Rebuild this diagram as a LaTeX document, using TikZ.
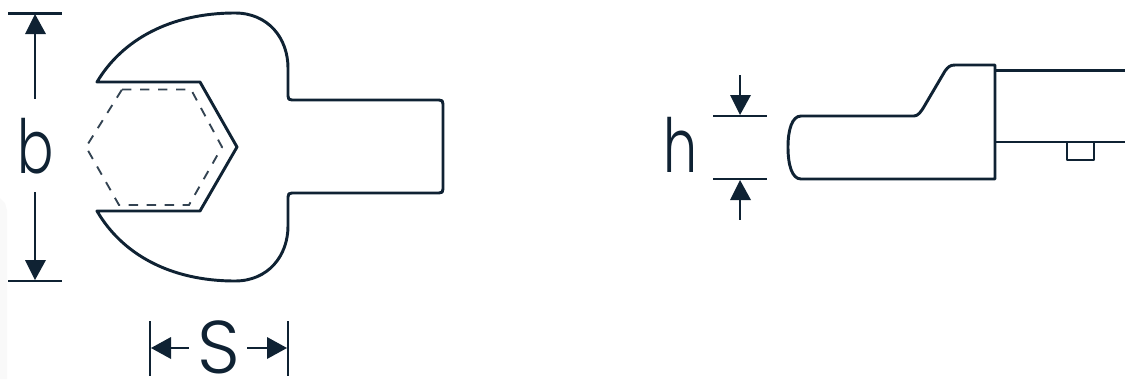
\documentclass[tikz,border=0pt]{standalone}
\usepackage{fontspec}
\setmainfont{Poppins Light}
\definecolor{ink}{HTML}{0F2233}
\begin{document}
\begin{tikzpicture}[x=0.75pt,y=-0.75pt,
  outline/.style={draw=ink,line width=2.2pt,line join=round},
  thinline/.style={draw=ink,line width=2.1pt},
  hexdash/.style={draw=ink!85,line width=1.4pt,dash pattern=on 7pt off 6.5pt},
  tip/.style={fill=ink,draw=none},
  lbl/.style={text=ink,inner sep=0pt,font=\fontsize{56pt}{56pt}\selectfont}]
\useasboundingbox (0,0) rectangle (1125,379);
\fill[gray!5] (0,198) -- (5,203) -- (7,210) -- (7,379) -- (0,379) -- cycle;
% open-end head
\draw[outline] (97,82) .. controls (122,40) and (170,13) .. (235,13)
  .. controls (268,13) and (288,38) .. (288,68)
  -- (288,96) .. controls (288,99) and (289,100) .. (292,100)
  -- (439,100) .. controls (442,100) and (443,101) .. (443,104)
  -- (443,189) .. controls (443,192) and (442,193) .. (439,193)
  -- (292,193) .. controls (289,193) and (288,194) .. (288,197)
  -- (288,226) .. controls (288,256) and (268,281) .. (235,281)
  .. controls (170,281) and (122,254) .. (97,211)
  -- (200,211) -- (237,147) -- (200,82) -- cycle;
\draw[hexdash] (122,89.5) -- (191,89.5) -- (222,147) -- (189,205) -- (119,205) -- (86,147) -- cycle;
% b dimension
\draw[thinline] (8,13.5) -- (62,13.5);
\draw[thinline] (8,281) -- (62,281);
\draw[thinline] (35,20) -- (35,99);
\draw[thinline] (35,192) -- (35,275);
\fill[tip] (35,14) -- (46,34) -- (25,34) -- cycle;
\fill[tip] (35,280) -- (46,260) -- (25,260) -- cycle;
\node[lbl,xscale=0.72] (b) at (36,146) {b};
% S dimension
\draw[thinline] (150,321) -- (150,376);
\draw[thinline] (288,321) -- (288,376);
\draw[thinline] (155,348) -- (189,348);
\draw[thinline] (247,348) -- (283,348);
\fill[tip] (151,348) -- (171,337) -- (171,359) -- cycle;
\fill[tip] (287,348) -- (267,337) -- (267,359) -- cycle;
\node[lbl] (S) at (219,347) {S};
% side view
\draw[outline] (995,65) -- (955,65) .. controls (950,65) and (948,67) .. (945,71)
  -- (925,105) .. controls (921,112) and (918,116) .. (914,116)
  -- (801,116) .. controls (792,116) and (788,130) .. (788,147)
  .. controls (788,165) and (792,179) .. (801,179)
  -- (995,179) -- cycle;
\draw[outline] (995,70.5) -- (1125,70.5);
\draw[outline] (995,142) -- (1125,142);
\draw[outline,line width=1.7pt] (1067,143) -- (1067,160) -- (1094,160) -- (1094,143);
% h dimension
\draw[thinline] (713,116) -- (767,116);
\draw[thinline] (713,179) -- (767,179);
\draw[thinline] (740,75) -- (740,110);
\draw[thinline] (740,185) -- (740,220);
\fill[tip] (740,115) -- (730,95) -- (751,95) -- cycle;
\fill[tip] (740,180) -- (730,200) -- (751,200) -- cycle;
\node[lbl,xscale=0.72] (h) at (681,145) {h};
\end{tikzpicture}
\end{document}
